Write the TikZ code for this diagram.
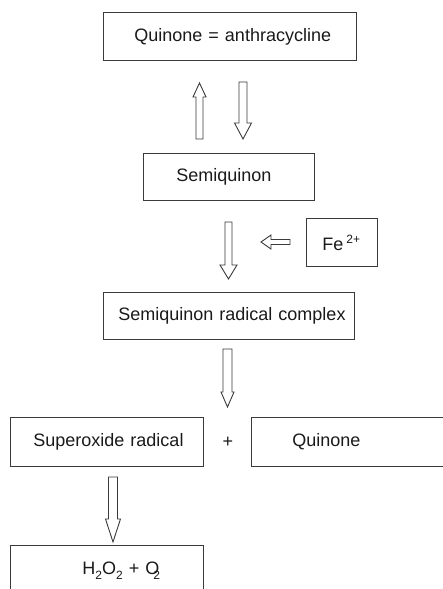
\documentclass[tikz,border=0pt]{standalone}
\usepackage{fontspec}
\setmainfont{Liberation Sans}
\definecolor{linecol}{HTML}{3A3A3A}
\definecolor{txtcol}{HTML}{1A1A1A}
\newcommand\varr[7]{% name, xc, ytail, ybase, ytip, half shaft, half head
  \draw[blk] ({#2-#6},#3) -- ({#2+#6},#3) -- ({#2+#6},#4) -- ({#2+#7},#4) -- (#2,#5) coordinate (#1) -- ({#2-#7},#4) -- ({#2-#6},#4) -- cycle;}
\newcommand\harr[7]{% name, yc, xtail, xbase, xtip, half shaft, half head
  \draw[blk] (#3,{#2-#6}) -- (#3,{#2+#6}) -- (#4,{#2+#6}) -- (#4,{#2+#7}) -- (#5,#2) coordinate (#1) -- (#4,{#2-#7}) -- (#4,{#2-#6}) -- cycle;}
\newcommand\smallnum[1]{{\fontsize{12}{12}\selectfont #1}}
\begin{document}
\begin{tikzpicture}[x=1pt,y=-1pt,
  box/.style={draw=linecol, line width=0.9pt, anchor=north west, inner xsep=0pt, inner ysep=0pt,
    align=left, font=\fontsize{18}{21}\selectfont, text=txtcol},
  blk/.style={draw=linecol, line width=0.9pt, fill=white, line join=miter},
  plain/.style={font=\fontsize{18}{21}\selectfont, text=txtcol, inner sep=0pt}]
\useasboundingbox (0,0) rectangle (443,589);
\clip (0,0) rectangle (443,589);
\node[box, text width=253pt, minimum height=48pt] (quin) at (103,12) {\hspace*{31pt}Quinone = anthracycline};
\node[box, text width=171pt, minimum height=47pt] (semi) at (143,153) {\hspace*{33pt}Semiquinon};
\node[box, text width=71pt, minimum height=48pt] (fe) at (306,218) {\hspace*{16pt}Fe\,\raisebox{7pt}{\smallnum{2+}}};
\node[box, text width=251pt, minimum height=47pt] (cplx) at (103,292) {\hspace*{15pt}Semiquinon radical complex};
\node[box, text width=193pt, minimum height=49pt] (super) at (10,417) {\hspace*{23pt}Superoxide radical};
\node[box, text width=250pt, minimum height=49pt] (quin2) at (251,417) {\hspace*{41pt}Quinone};
\node[plain] (plus) at (228,442) {+};
\node[box, text width=193pt, minimum height=50pt] (h2o2) at (10,545) {\hspace*{72pt}H\raisebox{-5pt}{\smallnum{2}}O\raisebox{-5pt}{\smallnum{2}} + O\kern-6pt\raisebox{-5pt}{\smallnum{2}}};
% block arrows
\varr{aup}{199.5}{139}{97}{83}{3.5}{6.5}
\varr{adown}{243}{82}{123}{139}{4}{8.5}
\varr{asemi}{228.5}{222}{265}{279}{3.5}{8.5}
\harr{afe}{242}{290}{271}{261}{2.5}{7}
\varr{acplx}{227.5}{349}{392}{407}{4.5}{6.5}
\varr{asuper}{113}{477}{519}{542}{4.5}{7.5}
\end{tikzpicture}
\end{document}
